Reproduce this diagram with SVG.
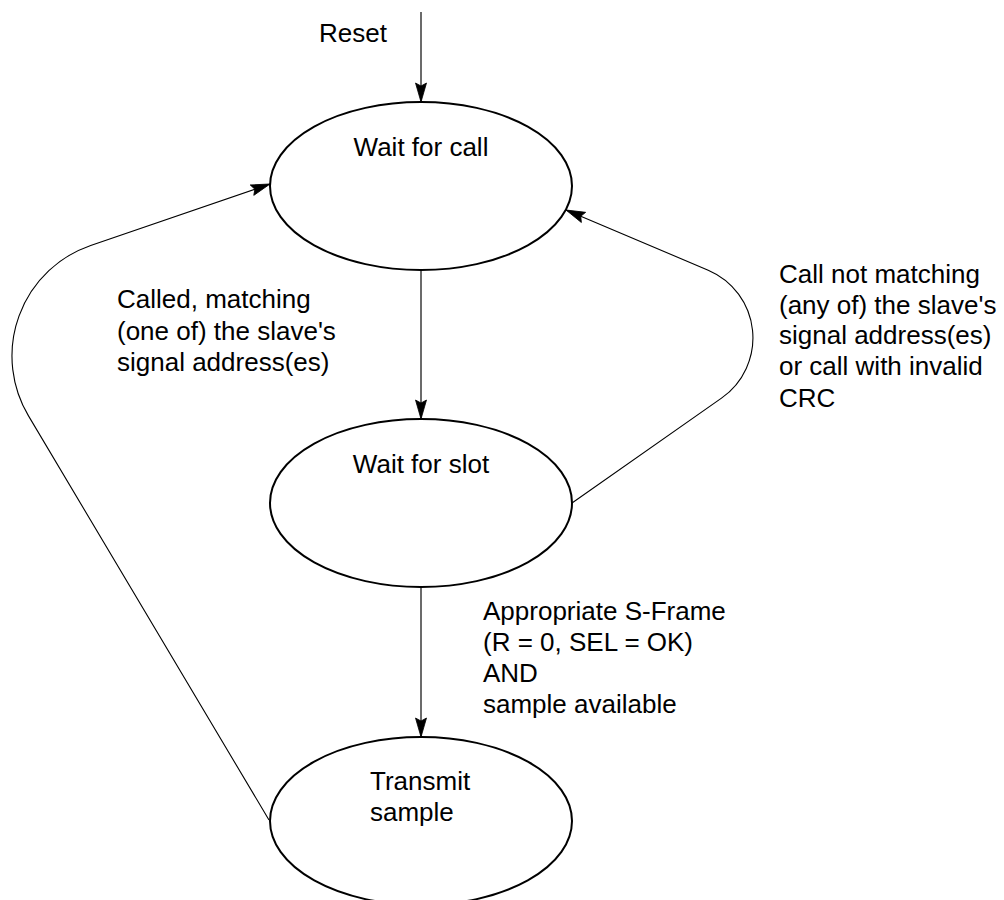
<svg xmlns="http://www.w3.org/2000/svg" width="1004" height="900" viewBox="0 0 1004 900">
  <style>
    .state { fill: #ffffff; stroke: #000000; stroke-width: 2; }
    .label { font-family: "Liberation Sans", Arial, sans-serif; font-size: 26px; fill: #000000; }
    .mid { text-anchor: middle; }
    .edge { fill: none; stroke: #000000; stroke-width: 1.1; }
    .edge-v { fill: none; stroke: #3a3a3a; stroke-width: 1.5; }
  </style>
  <defs>
    <marker id="arrow" markerUnits="userSpaceOnUse" markerWidth="22" markerHeight="14" viewBox="-20 -7 22 14" refX="0" refY="0" orient="auto">
      <path d="M0,0 L-19,-5.5 L-16,0 L-19,5.5 Z" fill="#000000" stroke="#000000" stroke-width="0.8" stroke-linejoin="miter"/>
    </marker>
  </defs>
  <rect width="1004" height="900" fill="#ffffff"/>

  <!-- transitions -->
  <g id="connectors">
    <line id="reset-edge" class="edge-v" x1="421" y1="12" x2="421" y2="102" marker-end="url(#arrow)"/>
    <line id="call-to-slot" class="edge-v" x1="421" y1="269" x2="421" y2="419" marker-end="url(#arrow)"/>
    <line id="slot-to-transmit" class="edge-v" x1="421" y1="587" x2="421" y2="737" marker-end="url(#arrow)"/>
    <path id="slot-to-call" class="edge" d="M572,503 L721.5,398.1 A73.5,73.5 0 0 0 708.2,270.2 L566,210" marker-end="url(#arrow)"/>
    <path id="transmit-to-call" class="edge" d="M269,820 L28.5,415.9 A117,117 0 0 1 90.7,245.4 L270,184" marker-end="url(#arrow)"/>
  </g>

  <!-- states -->
  <g id="state-wait-call">
    <ellipse class="state" cx="421" cy="186" rx="151" ry="84"/>
    <text class="label mid" x="421" y="156">Wait for call</text>
  </g>
  <g id="state-wait-slot">
    <ellipse class="state" cx="421" cy="503" rx="151" ry="84"/>
    <text class="label mid" x="421" y="473">Wait for slot</text>
  </g>
  <g id="state-transmit">
    <ellipse class="state" cx="421" cy="821" rx="151" ry="84"/>
    <text class="label" x="370" y="790">Transmit</text>
    <text class="label" x="370" y="820.5">sample</text>
  </g>

  <!-- transition labels -->
  <g id="label-reset">
    <text class="label" x="319" y="42">Reset</text>
  </g>
  <g id="label-called">
    <text class="label" x="117" y="308">Called, matching</text>
    <text class="label" x="117" y="339.5">(one of) the slave's</text>
    <text class="label" x="117" y="371">signal address(es)</text>
  </g>
  <g id="label-not-matching">
    <text class="label" x="779" y="283">Call not matching</text>
    <text class="label" x="779" y="313.5">(any of) the slave's</text>
    <text class="label" x="779" y="344">signal address(es)</text>
    <text class="label" x="779" y="375">or call with invalid</text>
    <text class="label" x="779" y="406.5">CRC</text>
  </g>
  <g id="label-sframe">
    <text class="label" x="483" y="620">Appropriate S-Frame</text>
    <text class="label" x="483" y="651">(R = 0, SEL = OK)</text>
    <text class="label" x="483" y="682">AND</text>
    <text class="label" x="483" y="713">sample available</text>
  </g>
</svg>
